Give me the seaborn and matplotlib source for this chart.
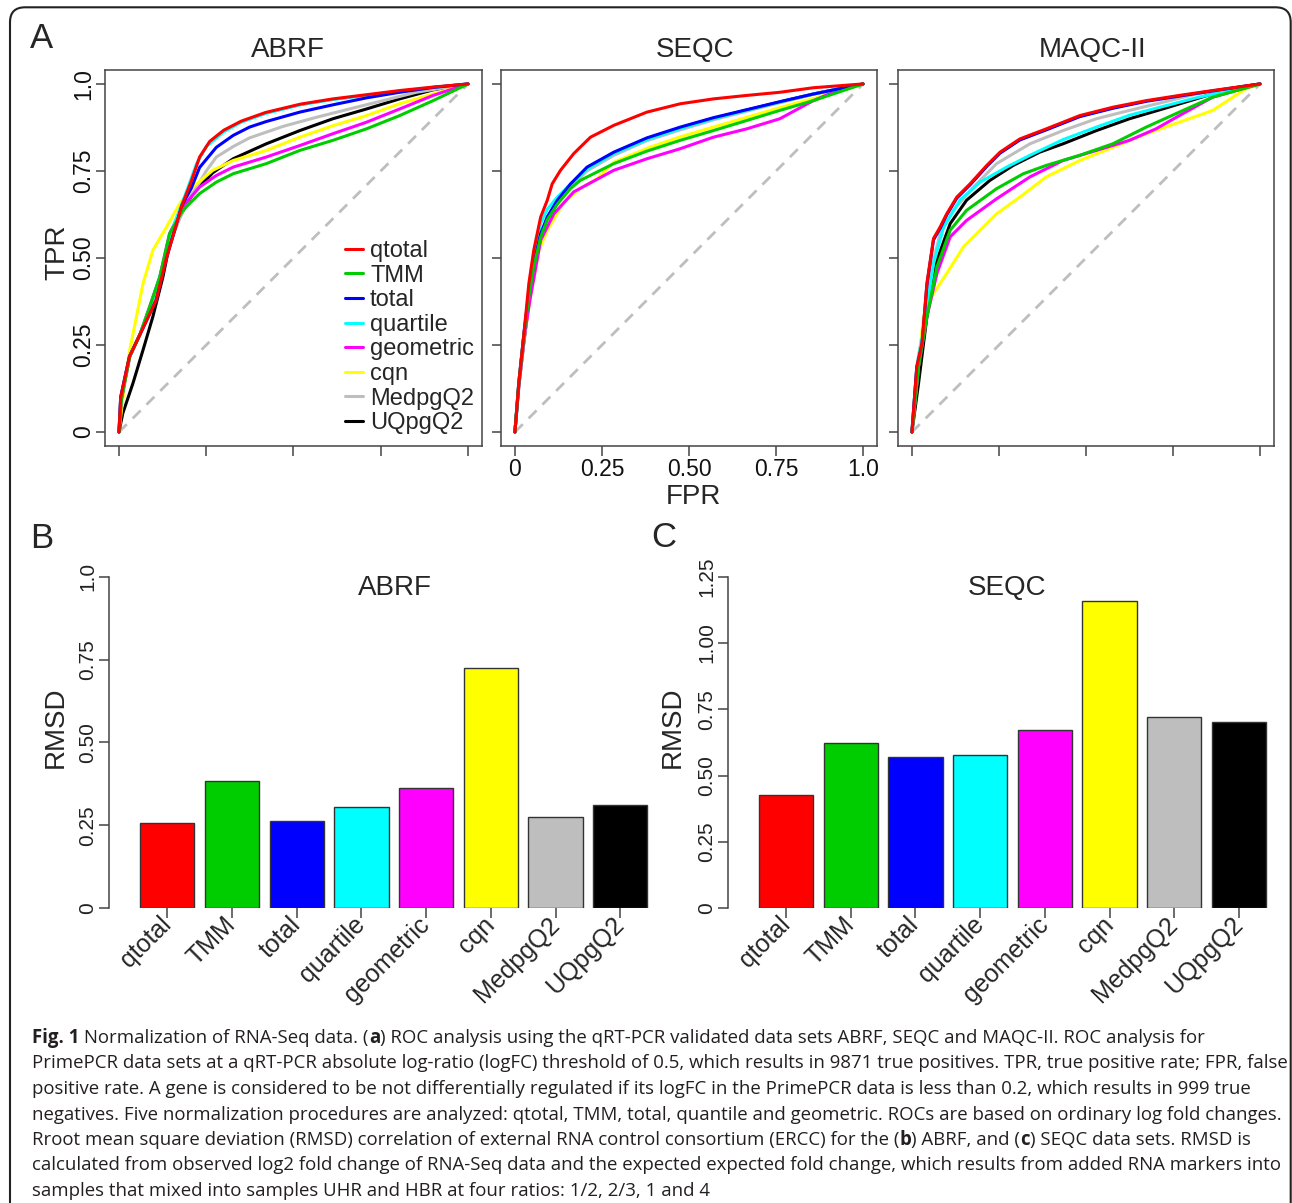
import matplotlib
matplotlib.use("Agg")
import matplotlib.pyplot as plt
import matplotlib.transforms as mtransforms
from matplotlib.patches import FancyBboxPatch
import seaborn as sns

# ---- data ----
methods = ["qtotal", "TMM", "total", "quartile", "geometric", "cqn", "MedpgQ2", "UQpgQ2"]
colors = ["#FF0000", "#00CD00", "#0000FF", "#00FFFF", "#FF00FF", "#FFFF00", "#BEBEBE", "#000000"]

rmsd_abrf = [0.257, 0.385, 0.264, 0.304, 0.362, 0.726, 0.274, 0.312]
rmsd_seqc = [0.428, 0.623, 0.570, 0.577, 0.672, 1.158, 0.720, 0.703]

roc_ticks = [0, 0.25, 0.5, 0.75, 1.0]
roc_ticklabels = ["0", "0.25", "0.50", "0.75", "1.0"]
diag = [0, 1]

# (FPR, TPR) per method
roc_abrf = {
    "qtotal": ([0, 0.005, 0.03, 0.06, 0.107, 0.136, 0.18, 0.207, 0.231, 0.26, 0.3, 0.35, 0.42, 0.52, 0.613, 0.709, 0.804, 0.9, 1.0],
               [0, 0.10, 0.217, 0.28, 0.38, 0.50, 0.65, 0.72, 0.79, 0.835, 0.867, 0.893, 0.918, 0.942, 0.957, 0.969, 0.981, 0.991, 1.0]),
    "TMM": ([0, 0.007, 0.031, 0.06, 0.088, 0.117, 0.145, 0.183, 0.231, 0.279, 0.327, 0.422, 0.518, 0.613, 0.709, 0.804, 0.9, 1.0],
            [0, 0.093, 0.217, 0.28, 0.36, 0.446, 0.57, 0.637, 0.685, 0.718, 0.742, 0.771, 0.809, 0.838, 0.871, 0.909, 0.952, 1.0]),
    "total": ([0, 0.005, 0.03, 0.06, 0.107, 0.136, 0.18, 0.207, 0.231, 0.279, 0.327, 0.374, 0.422, 0.518, 0.613, 0.709, 0.804, 0.9, 1.0],
              [0, 0.10, 0.217, 0.28, 0.38, 0.50, 0.65, 0.70, 0.76, 0.818, 0.852, 0.876, 0.892, 0.919, 0.94, 0.96, 0.976, 0.99, 1.0]),
    "quartile": ([0, 0.005, 0.03, 0.06, 0.093, 0.126, 0.155, 0.193, 0.222, 0.25, 0.3, 0.35, 0.42, 0.52, 0.613, 0.709, 0.804, 0.9, 1.0],
                 [0, 0.10, 0.217, 0.28, 0.37, 0.475, 0.589, 0.69, 0.77, 0.82, 0.862, 0.89, 0.915, 0.94, 0.955, 0.967, 0.979, 0.99, 1.0]),
    "geometric": ([0, 0.007, 0.031, 0.06, 0.088, 0.117, 0.145, 0.183, 0.231, 0.279, 0.327, 0.422, 0.518, 0.613, 0.709, 0.804, 0.9, 1.0],
                  [0, 0.093, 0.217, 0.28, 0.36, 0.446, 0.57, 0.647, 0.704, 0.737, 0.761, 0.79, 0.823, 0.857, 0.89, 0.928, 0.967, 1.0]),
    "cqn": ([0, 0.016, 0.031, 0.05, 0.069, 0.097, 0.136, 0.174, 0.212, 0.269, 0.327, 0.422, 0.518, 0.613, 0.709, 0.804, 0.9, 1.0],
            [0, 0.14, 0.236, 0.331, 0.427, 0.522, 0.589, 0.656, 0.704, 0.752, 0.78, 0.809, 0.847, 0.88, 0.909, 0.943, 0.971, 1.0]),
    "MedpgQ2": ([0, 0.005, 0.03, 0.06, 0.1, 0.13, 0.16, 0.19, 0.22, 0.25, 0.279, 0.327, 0.374, 0.47, 0.565, 0.66, 0.756, 0.852, 1.0],
                [0, 0.10, 0.217, 0.28, 0.37, 0.48, 0.58, 0.65, 0.70, 0.75, 0.79, 0.82, 0.845, 0.878, 0.904, 0.928, 0.952, 0.976, 1.0]),
    "UQpgQ2": ([0, 0.011, 0.04, 0.069, 0.097, 0.126, 0.145, 0.174, 0.212, 0.269, 0.327, 0.422, 0.518, 0.613, 0.709, 0.804, 0.9, 1.0],
               [0, 0.054, 0.14, 0.236, 0.331, 0.446, 0.54, 0.618, 0.685, 0.745, 0.785, 0.828, 0.866, 0.9, 0.928, 0.957, 0.983, 1.0]),
}

roc_seqc = {
    "qtotal": ([0, 0.011, 0.026, 0.04, 0.054, 0.074, 0.093, 0.107, 0.131, 0.169, 0.217, 0.284, 0.379, 0.475, 0.57, 0.666, 0.761, 0.857, 1.0],
               [0, 0.14, 0.284, 0.427, 0.522, 0.618, 0.666, 0.713, 0.752, 0.8, 0.847, 0.881, 0.919, 0.943, 0.957, 0.967, 0.976, 0.989, 1.0]),
    "TMM": ([0, 0.011, 0.026, 0.04, 0.054, 0.074, 0.093, 0.122, 0.16, 0.188, 0.284, 0.379, 0.475, 0.57, 0.666, 0.761, 0.857, 1.0],
            [0, 0.14, 0.28, 0.39, 0.475, 0.56, 0.61, 0.655, 0.70, 0.723, 0.771, 0.807, 0.838, 0.866, 0.895, 0.924, 0.952, 1.0]),
    "total": ([0, 0.011, 0.026, 0.04, 0.054, 0.074, 0.093, 0.122, 0.16, 0.207, 0.284, 0.379, 0.475, 0.57, 0.666, 0.761, 0.857, 1.0],
              [0, 0.14, 0.284, 0.398, 0.484, 0.57, 0.618, 0.666, 0.713, 0.761, 0.804, 0.845, 0.876, 0.903, 0.926, 0.949, 0.971, 1.0]),
    "quartile": ([0, 0.011, 0.026, 0.04, 0.054, 0.074, 0.093, 0.122, 0.16, 0.207, 0.284, 0.379, 0.475, 0.57, 0.666, 0.761, 0.857, 1.0],
                 [0, 0.14, 0.284, 0.41, 0.5, 0.6, 0.64, 0.675, 0.713, 0.755, 0.8, 0.84, 0.872, 0.9, 0.924, 0.948, 0.971, 1.0]),
    "geometric": ([0, 0.011, 0.026, 0.045, 0.074, 0.112, 0.169, 0.284, 0.379, 0.475, 0.57, 0.666, 0.761, 0.857, 0.914, 1.0],
                  [0, 0.13, 0.27, 0.39, 0.551, 0.627, 0.69, 0.752, 0.785, 0.814, 0.847, 0.871, 0.9, 0.952, 0.976, 1.0]),
    "cqn": ([0, 0.011, 0.026, 0.045, 0.069, 0.093, 0.14, 0.188, 0.236, 0.284, 0.379, 0.475, 0.57, 0.666, 0.761, 0.857, 1.0],
            [0, 0.13, 0.27, 0.39, 0.522, 0.58, 0.66, 0.70, 0.728, 0.775, 0.815, 0.848, 0.876, 0.904, 0.932, 0.958, 1.0]),
    "MedpgQ2": ([0, 0.011, 0.026, 0.04, 0.054, 0.074, 0.093, 0.122, 0.16, 0.207, 0.284, 0.379, 0.475, 0.57, 0.666, 0.761, 0.857, 1.0],
                [0, 0.13, 0.27, 0.38, 0.47, 0.565, 0.612, 0.66, 0.705, 0.75, 0.795, 0.837, 0.868, 0.897, 0.922, 0.946, 0.97, 1.0]),
    "UQpgQ2": ([0, 0.011, 0.026, 0.04, 0.054, 0.074, 0.093, 0.122, 0.16, 0.207, 0.284, 0.379, 0.475, 0.57, 0.666, 0.761, 0.857, 1.0],
               [0, 0.13, 0.26, 0.37, 0.46, 0.56, 0.615, 0.664, 0.71, 0.758, 0.802, 0.843, 0.874, 0.901, 0.925, 0.948, 0.971, 1.0]),
}

roc_maqc = {
    "qtotal": ([0, 0.014, 0.029, 0.043, 0.062, 0.081, 0.1, 0.129, 0.167, 0.215, 0.253, 0.31, 0.386, 0.482, 0.577, 0.673, 0.768, 0.864, 1.0],
               [0, 0.188, 0.255, 0.427, 0.556, 0.589, 0.627, 0.675, 0.713, 0.766, 0.804, 0.842, 0.871, 0.909, 0.933, 0.952, 0.967, 0.981, 1.0]),
    "TMM": ([0, 0.019, 0.043, 0.072, 0.11, 0.157, 0.243, 0.32, 0.386, 0.482, 0.577, 0.673, 0.768, 0.864, 1.0],
            [0, 0.188, 0.331, 0.475, 0.58, 0.637, 0.699, 0.742, 0.766, 0.795, 0.828, 0.876, 0.919, 0.962, 1.0]),
    "total": ([0, 0.014, 0.029, 0.043, 0.062, 0.081, 0.1, 0.129, 0.167, 0.215, 0.253, 0.31, 0.386, 0.482, 0.577, 0.673, 0.768, 0.864, 1.0],
              [0, 0.185, 0.252, 0.423, 0.552, 0.585, 0.624, 0.672, 0.71, 0.763, 0.801, 0.839, 0.868, 0.906, 0.93, 0.95, 0.965, 0.98, 1.0]),
    "quartile": ([0, 0.014, 0.038, 0.062, 0.091, 0.138, 0.196, 0.272, 0.339, 0.434, 0.53, 0.625, 0.72, 0.816, 1.0],
                 [0, 0.188, 0.32, 0.484, 0.589, 0.666, 0.718, 0.761, 0.795, 0.84, 0.876, 0.91, 0.935, 0.96, 1.0]),
    "geometric": ([0, 0.019, 0.043, 0.072, 0.11, 0.157, 0.243, 0.339, 0.434, 0.53, 0.625, 0.701, 0.768, 0.864, 1.0],
                  [0, 0.188, 0.331, 0.456, 0.561, 0.608, 0.67, 0.733, 0.78, 0.809, 0.838, 0.871, 0.909, 0.962, 1.0]),
    "cqn": ([0, 0.014, 0.033, 0.062, 0.1, 0.148, 0.196, 0.243, 0.31, 0.386, 0.482, 0.577, 0.673, 0.768, 0.864, 0.959, 1.0],
            [0, 0.14, 0.331, 0.398, 0.456, 0.532, 0.58, 0.627, 0.675, 0.733, 0.78, 0.818, 0.857, 0.89, 0.924, 0.986, 1.0]),
    "MedpgQ2": ([0, 0.014, 0.033, 0.057, 0.081, 0.119, 0.177, 0.243, 0.339, 0.434, 0.53, 0.625, 0.72, 0.816, 1.0],
                [0, 0.188, 0.303, 0.475, 0.57, 0.637, 0.704, 0.771, 0.828, 0.866, 0.9, 0.924, 0.947, 0.971, 1.0]),
    "UQpgQ2": ([0, 0.019, 0.043, 0.072, 0.11, 0.157, 0.224, 0.291, 0.367, 0.434, 0.53, 0.625, 0.72, 0.816, 0.911, 1.0],
               [0, 0.14, 0.331, 0.494, 0.599, 0.666, 0.723, 0.766, 0.804, 0.828, 0.866, 0.9, 0.928, 0.957, 0.986, 1.0]),
}

caption_lines = [
    [("Fig. 1", "bold"), (" Normalization of RNA-Seq data. (", "normal"), ("a", "bold"),
     (") ROC analysis using the qRT-PCR validated data sets ABRF, SEQC and MAQC-II. ROC analysis for", "normal")],
    [("PrimePCR data sets at a qRT-PCR absolute log-ratio (logFC) threshold of 0.5, which results in 9871 true positives. TPR, true positive rate; FPR, false", "normal")],
    [("positive rate. A gene is considered to be not differentially regulated if its logFC in the PrimePCR data is less than 0.2, which results in 999 true", "normal")],
    [("negatives. Five normalization procedures are analyzed: qtotal, TMM, total, quantile and geometric. ROCs are based on ordinary log fold changes.", "normal")],
    [("Rroot mean square deviation (RMSD) correlation of external RNA control consortium (ERCC) for the (", "normal"), ("b", "bold"),
     (") ABRF, and (", "normal"), ("c", "bold"), (") SEQC data sets. RMSD is", "normal")],
    [("calculated from observed log2 fold change of RNA-Seq data and the expected expected fold change, which results from added RNA markers into", "normal")],
    [("samples that mixed into samples UHR and HBR at four ratios: 1/2, 2/3, 1 and 4", "normal")],
]

# ---- style ----
sns.set_theme(style="ticks")
plt.rcParams["font.family"] = ["Liberation Sans", "DejaVu Sans"]
edge = "#444444"

W, H = 1292, 1203
fig = plt.figure(figsize=(W / 100, H / 100), dpi=100)


def box(l, t, r, b):
    return [l / W, 1 - b / H, (r - l) / W, (b - t) / H]


def ftext(x, y, s, **kw):
    return fig.text(x / W, 1 - y / H, s, **kw)


# ---- panel A: ROC curves ----
roc_panels = [("ABRF", roc_abrf, 105, 482, 287.5), ("SEQC", roc_seqc, 501, 877, 695), ("MAQC-II", roc_maqc, 898, 1274, 1092.5)]
for i, (name, roc, left, right, tx) in enumerate(roc_panels):
    ax = fig.add_axes(box(left, 70, right, 446))
    ax.plot(diag, diag, color="#BEBEBE", lw=2.0, dashes=(4, 3))
    for m in reversed(methods):
        fpr, tpr = roc[m]
        sns.lineplot(x=fpr, y=tpr, color=colors[methods.index(m)], lw=2.2,
                     sort=False, estimator=None, label=m, ax=ax)
    ax.set_xlim(-0.04, 1.04)
    ax.set_ylim(-0.04, 1.04)
    ax.set_xticks(roc_ticks)
    ax.set_yticks(roc_ticks)
    ax.set_xticklabels(roc_ticklabels if i == 1 else [])
    ax.set_yticklabels(roc_ticklabels if i == 0 else [], rotation=90, va="center")
    ax.tick_params(axis="x", direction="out", length=7, width=1.1, color=edge, labelsize=16.5, pad=1.5, labelcolor="#111111")
    ax.tick_params(axis="y", direction="out", length=6.3, width=1.1, color=edge, labelsize=16.5, pad=1, labelcolor="#111111")
    for sp in ax.spines.values():
        sp.set_visible(True)
        sp.set_color(edge)
        sp.set_linewidth(1.1)
    ax.set_xlabel("")
    ax.set_ylabel("")
    handles, labels = ax.get_legend_handles_labels()
    ax.get_legend().remove()
    if i == 0:
        order = [labels.index(m) for m in methods]
        ax.legend([handles[k] for k in order], methods, loc="upper left",
                  bbox_to_anchor=(345 / W, 1 - 240 / H), bbox_transform=fig.transFigure,
                  frameon=False, fontsize=17, handlelength=0.76, handletextpad=0.3,
                  labelspacing=0.11, borderpad=0, borderaxespad=0)
    ftext(tx, 50, name, fontsize=20, ha="center", va="center")

ftext(57, 252, "TPR", fontsize=20, rotation=90, ha="center", va="center")
ftext(693, 497, "FPR", fontsize=20, ha="center", va="center")

# ---- panels B and C: RMSD bars ----
bar_panels = [
    ("ABRF", rmsd_abrf, 109.3, 660, 167.3, [0, 0.25, 0.5, 0.75, 1.0], ["0", "0.25", "0.50", "0.75", "1.0"], 394.5, 56),
    ("SEQC", rmsd_seqc, 727.7, 1280, 786, [0, 0.25, 0.5, 0.75, 1.0, 1.25], ["0", "0.25", "0.50", "0.75", "1.00", "1.25"], 1007, 673),
]
step = 64.7
for name, vals, left, right, c0, yt, ytl, tx, lx in bar_panels:
    ax = fig.add_axes(box(left, 576.7, right, 908.2))
    sns.barplot(x=methods, y=vals, hue=methods, palette=colors, legend=False, width=0.84,
                saturation=1, edgecolor="#333333", linewidth=1.0, ax=ax)
    x0 = -(c0 - left) / step
    ax.set_xlim(x0, x0 + (right - left) / step)
    ax.set_ylim(0, yt[-1])
    sns.despine(ax=ax, bottom=True)
    ax.spines["left"].set_color(edge)
    ax.spines["left"].set_linewidth(1.1)
    ax.set_yticks(yt)
    ax.set_yticklabels(ytl, rotation=90, va="center")
    ax.tick_params(axis="y", direction="out", length=7, width=1.1, color=edge, labelsize=15, pad=1.5, labelcolor="#222222")
    ax.tick_params(axis="x", direction="out", length=7, width=1.1, color=edge, labelsize=18, pad=2)
    plt.setp(ax.get_xticklabels(), rotation=45, ha="right", va="center", rotation_mode="anchor")
    ax.set_xlabel("")
    ax.set_ylabel("")
    ftext(tx, 588, name, fontsize=20, ha="center", va="center")
    ftext(lx, 727, "RMSD", fontsize=20, rotation=90, ha="center", va="center")

# ---- panel letters ----
ftext(42, 38, "A", fontsize=25, ha="center", va="center")
ftext(42, 538, "B", fontsize=25, ha="center", va="center")
ftext(664, 537, "C", fontsize=25, ha="center", va="center")

# ---- caption ----
renderer = fig.canvas.get_renderer()
probe = fig.text(0, 0, caption_lines[5][0][0], fontsize=10, family="Open Sans")
cap_size = 10 * 1246 / probe.get_window_extent(renderer).width
probe.remove()
for k, runs in enumerate(caption_lines):
    x = 32
    y = 1043 + k * 25.5
    for s, w in runs:
        t = ftext(x, y, s, fontsize=cap_size, fontweight=w, family="Open Sans",
                  ha="left", va="baseline", color="#231F20")
        x += t.get_window_extent(renderer).width

# ---- rounded frame ----
frame = FancyBboxPatch((10, -30), 1280.7, H - 7.3 + 30, boxstyle="round,pad=0,rounding_size=15",
                       transform=mtransforms.IdentityTransform(), fc="none", ec="#222222", lw=1.5)
fig.add_artist(frame)

fig.savefig("out.png", dpi=100)
